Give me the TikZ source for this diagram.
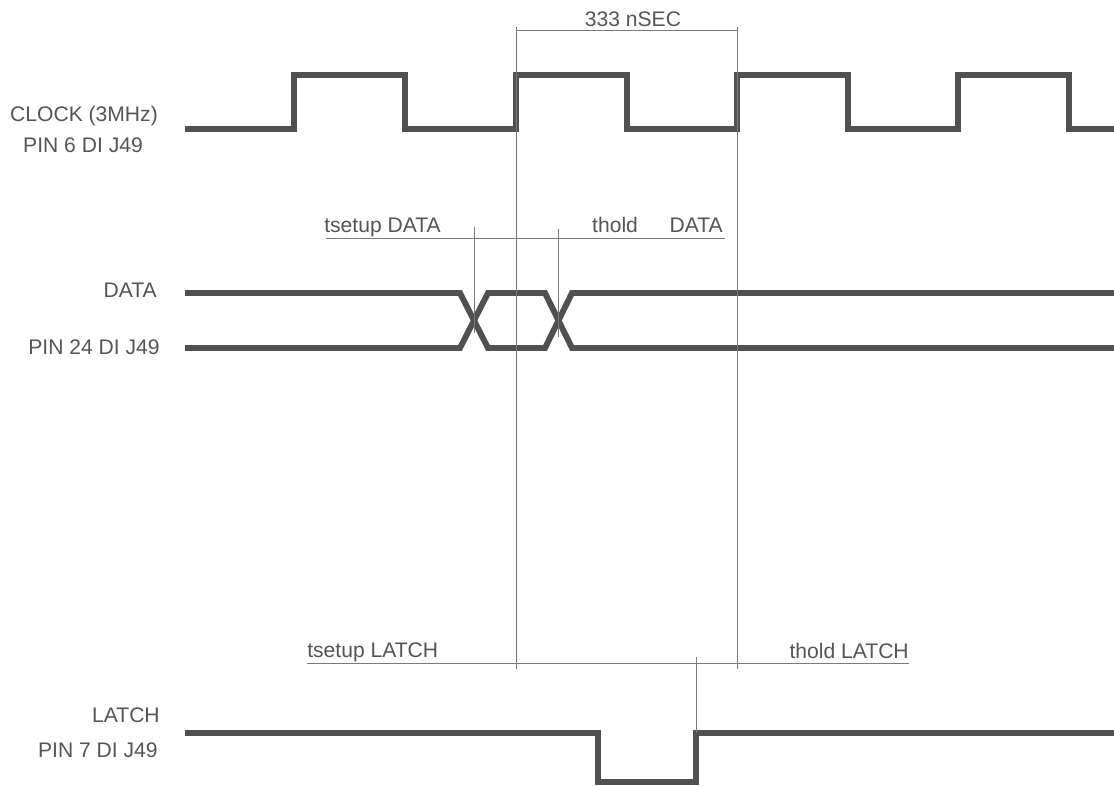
\documentclass[tikz,border=0pt]{standalone}
\usepackage{fontspec}
\setmainfont{Liberation Sans}
\usepackage{xcolor}
\usetikzlibrary{positioning, calc}

\definecolor{wavegray}{HTML}{505050}
\definecolor{guidegray}{HTML}{7A7A7A}
\definecolor{textgray}{HTML}{555555}

\begin{document}
\begin{tikzpicture}[x=0.025cm, y=-0.025cm, font=\fontsize{15}{18}\selectfont,
  signal/.style={wavegray, line width=4.2pt},
  guide/.style={guidegray, line width=0.6pt},
  siglabel/.style={text=textgray, inner sep=0pt, anchor=base east},
  timelabel/.style={text=textgray, inner sep=0pt, anchor=base west}]
\useasboundingbox (0,0) rectangle (1114,787);

% clock edges used as reference marks
\coordinate (edgeA) at (516,27);
\coordinate (edgeB) at (737,27);

% signal names
\node[text=textgray, inner sep=0pt, anchor=base] (clkname) at (84,122) {CLOCK (3MHz)};
\node[text=textgray, inner sep=0pt, anchor=base] (clkpin) at (83,153) {PIN 6 DI J49};
\node[siglabel] (dataname) at (157,298) {DATA};
\node[siglabel] (datapin) at (160,355) {PIN 24 DI J49};
\node[siglabel] (latchname) at (160,722) {LATCH};
\node[siglabel] (latchpin) at (158,757) {PIN 7 DI J49};

% waveforms
\draw[signal] (185,129) foreach \t in {294,516,737,958} {
    -- (\t,129) -- (\t,75) -- (\t+111,75) -- (\t+111,129) } -- (1114,129);
\draw[signal] (185,293) -- (460,293) -- (488,348) -- (545,348) -- (572,293) -- (1114,293);
\draw[signal] (185,348) -- (460,348) -- (488,293) -- (545,293) -- (572,348) -- (1114,348);
\draw[signal] (185,733) -- (598,733) -- (598,782) -- (696,782) -- (696,733) -- (1114,733);

% period
\draw[guide] (edgeA) -- ++(0,642);
\draw[guide] (edgeB) -- ++(0,642);
\draw[guide] ($(edgeA)+(0,3)$) -- ($(edgeB)+(0,3)$);
\node[text=textgray, inner sep=0pt, anchor=base] (period) at (633,27) {333 nSEC};

% data setup / hold
\node[timelabel] (dsetup) at (324,233) {tsetup DATA};
\node[text=textgray, inner sep=0pt, anchor=base east] (dhold) at (723,233) {thold\hspace{1.5em}DATA};
\draw[guide] (326,238) -- (725,238);
\draw[guide] (474,227) -- (474,333);
\draw[guide] (558,229) -- (558,337);

% latch setup / hold
\node[timelabel] (lsetup) at (307,657) {tsetup LATCH};
\node[text=textgray, inner sep=0pt, anchor=base east] (lhold) at (909,658) {thold LATCH};
\draw[guide] (307,663) -- (909,663);
\draw[guide] (696,657) -- (696,733);
\end{tikzpicture}
\end{document}
